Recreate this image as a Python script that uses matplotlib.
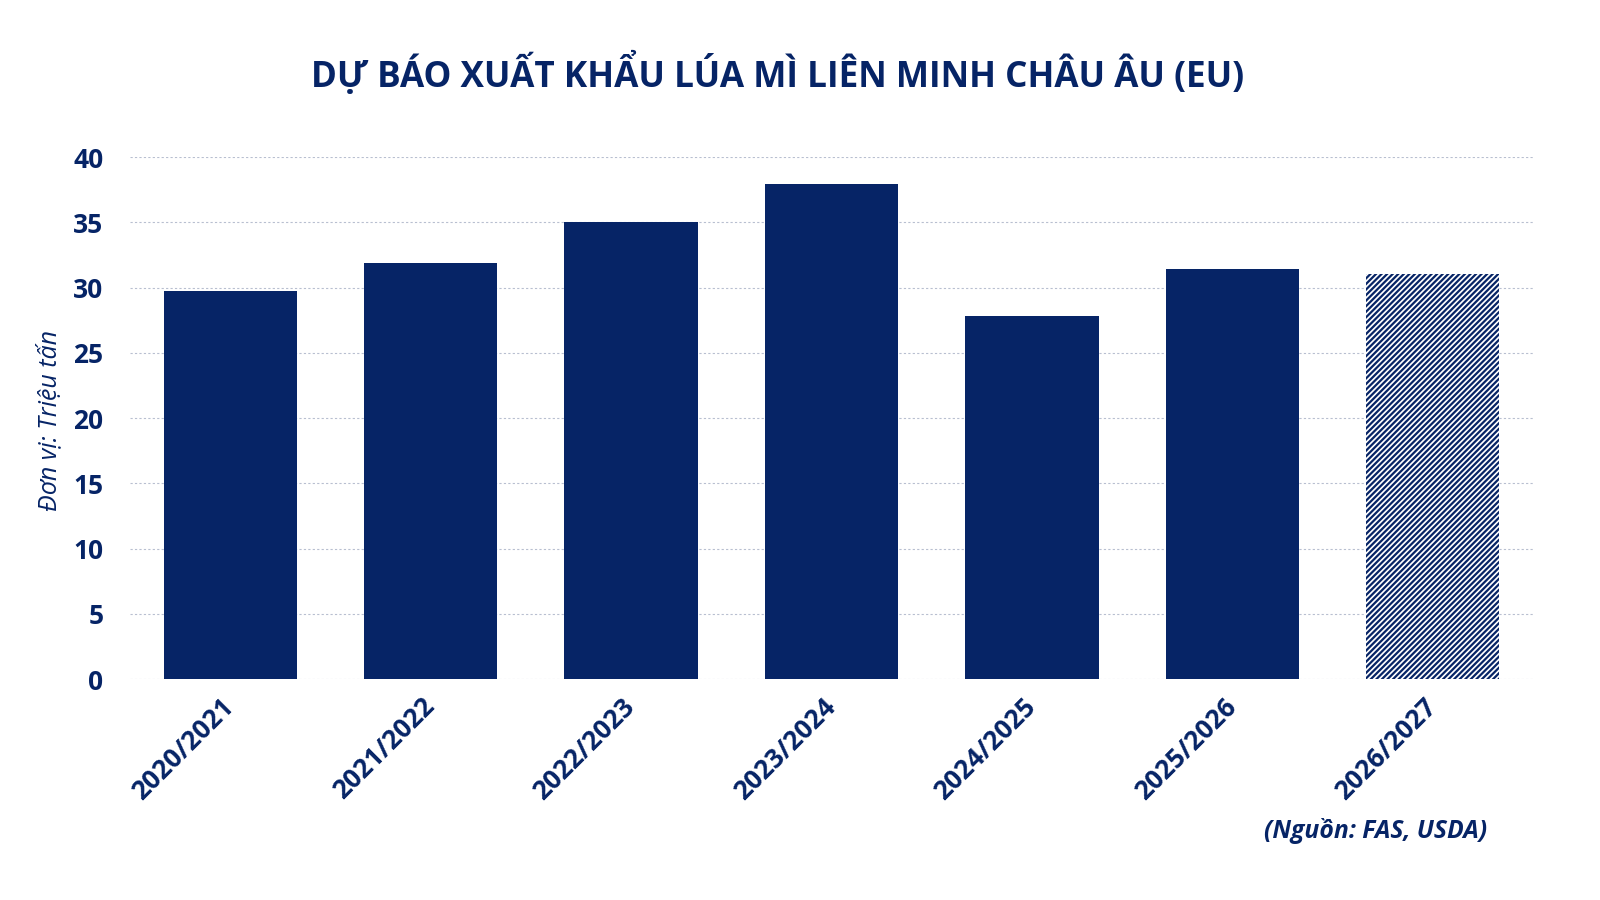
import matplotlib.pyplot as plt
import matplotlib.transforms as mtransforms

# ========= DATA ============
seasons = ["2020/2021", "2021/2022", "2022/2023", "2023/2024",
           "2024/2025", "2025/2026", "2026/2027"]
exports = [29.7, 31.9, 35.0, 37.9, 27.8, 31.4, 31.0]
forecast = [False, False, False, False, False, False, True]
# ===========================

NAVY = "#062466"
plt.rcParams['font.family'] = ['Open Sans', 'DejaVu Sans']
plt.rcParams['hatch.linewidth'] = 1.6

fig = plt.figure(figsize=(16, 9), dpi=100)
ax = fig.add_axes([130 / 1600, 1 - 679 / 900, (1533 - 130) / 1600, (679 - 157) / 900])

x = list(range(len(seasons)))
for xi, val, fc in zip(x, exports, forecast):
    if fc:
        ax.bar(xi, val, width=0.665, facecolor="white", edgecolor=NAVY,
               hatch="//////", linewidth=0, zorder=3)
    else:
        ax.bar(xi, val, width=0.665, color=NAVY, zorder=3)

ax.set_xlim(-0.5, 6.5)
ax.set_ylim(0, 40)
ax.set_yticks(range(0, 41, 5))
ax.grid(axis='y', color="#b8bfd0", linestyle=(0, (2, 2)), linewidth=0.8, zorder=0)

for s in ax.spines.values():
    s.set_visible(False)
ax.tick_params(length=0)
ax.tick_params(axis='y', pad=19, labelsize=19, labelcolor=NAVY)
ax.set_yticklabels([str(v) for v in range(0, 41, 5)], fontweight='bold')

ax.set_xticks(x)
ax.set_xticklabels(seasons, rotation=45, ha='right', rotation_mode='anchor',
                   fontsize=19, fontweight='bold', color=NAVY)
ax.tick_params(axis='x', pad=10)
shift = mtransforms.ScaledTranslation(-7 / 72, 0, fig.dpi_scale_trans)
for lbl in ax.get_xticklabels():
    lbl.set_transform(lbl.get_transform() + shift)

ax.set_ylabel("Đơn vị: Triệu tấn", fontsize=18, style='italic', color=NAVY)
ax.yaxis.set_label_coords(-0.048, 0.495)

fig.text(0.486, 0.918, "DỰ BÁO XUẤT KHẨU LÚA MÌ LIÊN MINH CHÂU ÂU (EU)",
         ha='center', va='center', fontsize=25.3, fontweight='bold', color=NAVY)
fig.text(1487 / 1600, 1 - 831 / 900, "(Nguồn: FAS, USDA)", ha='right',
         va='center', fontsize=17.8, fontweight='bold', style='italic', color=NAVY)

fig.savefig("out.png", dpi=100, facecolor="white")
